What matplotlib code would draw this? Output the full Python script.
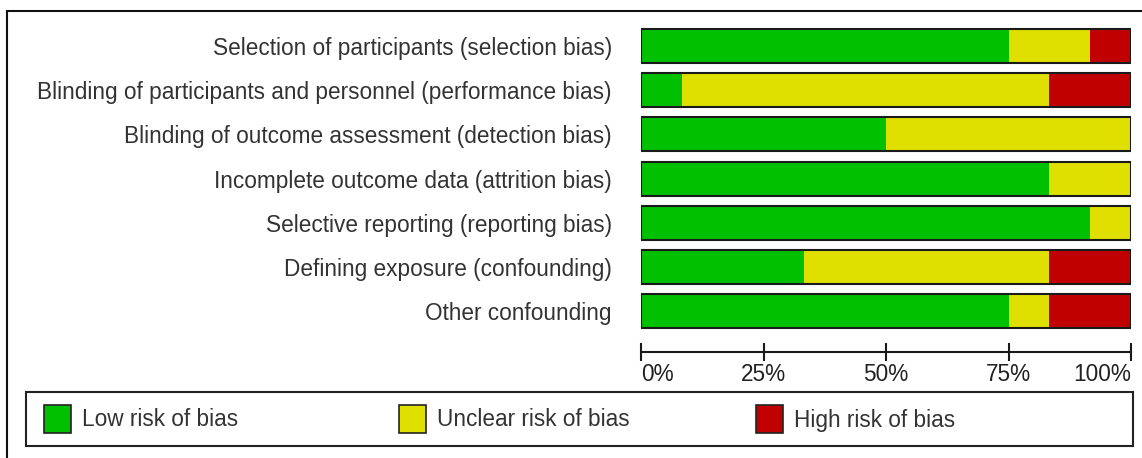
import numpy as np
import matplotlib
matplotlib.use("Agg")
import matplotlib.pyplot as plt
from matplotlib.patches import Rectangle

plt.rcParams['font.family'] = ['Liberation Sans', 'DejaVu Sans']

# risk of bias domains (top to bottom)
domains = [
    "Selection of participants (selection bias)",
    "Blinding of participants and personnel (performance bias)",
    "Blinding of outcome assessment (detection bias)",
    "Incomplete outcome data (attrition bias)",
    "Selective reporting (reporting bias)",
    "Defining exposure (confounding)",
    "Other confounding",
]
# percent of studies
low = [75.0, 8.3, 50.0, 83.3, 91.7, 33.3, 75.0]
unclear = [16.7, 75.0, 50.0, 16.7, 8.3, 50.0, 8.3]
high = [8.3, 16.7, 0.0, 0.0, 0.0, 16.7, 16.7]

ticks = [0, 25, 50, 75, 100]
tick_labels = ["0%", "25%", "50%", "75%", "100%"]

cats = ["Low risk of bias", "Unclear risk of bias", "High risk of bias"]
colors = ["#00c000", "#e0e000", "#c00000"]

FS = 16.3
W, H = 1142, 458
fig = plt.figure(figsize=(W / 100, H / 100), dpi=100)

def fx(px):
    return px / W

def fy(py):
    return 1 - py / H

# bar axes: left 641, right 1131, top 24, bottom (axis line) 352
ax = fig.add_axes([fx(641), fy(352), fx(1131) - fx(641), fy(24) - fy(352)])

y = np.arange(len(domains))
h = 0.77
left = np.zeros(len(domains))
for vals, c in zip([low, unclear, high], colors):
    ax.barh(y, vals, left=left, height=h, color=c, edgecolor="none", zorder=2)
    left = left + np.array(vals)
# outline around each whole bar
ax.barh(y, left, height=h, facecolor="none", edgecolor="#1a1a1a", linewidth=1.5, zorder=3)

ax.set_xlim(0, 100)
ax.set_ylim(6.93, -0.5)

for s in ["top", "left", "right"]:
    ax.spines[s].set_visible(False)
ax.spines["bottom"].set_linewidth(1.5)
ax.spines["bottom"].set_color("#1a1a1a")

ax.set_yticks(y)
ax.set_yticklabels(domains, fontsize=FS, color="#333333")
ax.tick_params(axis="y", length=0, pad=21)

ax.set_xticks(ticks)
ax.set_xticklabels(tick_labels, fontsize=FS, color="#222222")
ax.tick_params(axis="x", direction="inout", length=12.5, width=1.5, color="#1a1a1a", pad=2)
xl = ax.get_xticklabels()
xl[0].set_horizontalalignment("left")
xl[-1].set_horizontalalignment("right")

# outer frame
fig.add_artist(Rectangle((fx(7), fy(480)), 1.2, fy(11) - fy(480), transform=fig.transFigure,
                         fill=False, edgecolor="#111111", linewidth=1.5))

# legend box
fig.add_artist(Rectangle((fx(26), fy(446)), fx(1133) - fx(26), fy(392) - fy(446),
                         transform=fig.transFigure, fill=False, edgecolor="#222222", linewidth=1.5))
leg_x = [44, 399, 756]
for lx, lab, c in zip(leg_x, cats, colors):
    fig.add_artist(Rectangle((fx(lx), fy(433)), fx(27), fy(405) - fy(433),
                             transform=fig.transFigure, facecolor=c, edgecolor="#222222", linewidth=1.2))
    fig.text(fx(lx + 38), fy(420), lab, fontsize=FS, color="#333333", va="center", ha="left")

fig.savefig("out.png", dpi=100)
